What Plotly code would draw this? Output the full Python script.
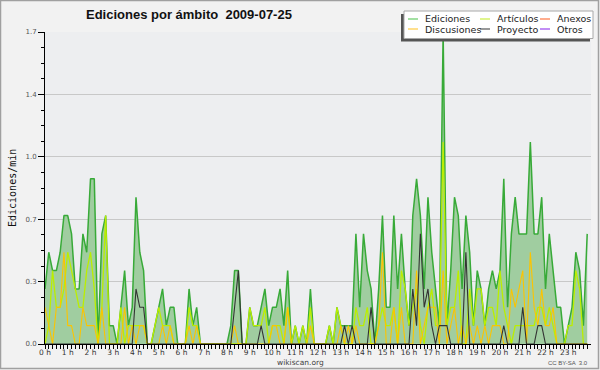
import plotly.graph_objects as go

# 10-minute bins, values in edits per minute (24 h x 6 bins)
ediciones = [
    0.3, 0.5, 0.4, 0.4, 0.5, 0.7,
    0.7, 0.6, 0.3, 0.3, 0.6, 0.5,
    0.9, 0.9, 0.0, 0.6, 0.7, 0.1,
    0.1, 0.0, 0.2, 0.4, 0.1, 0.2,
    0.8, 0.5, 0.4, 0.0, 0.0, 0.1,
    0.2, 0.3, 0.1, 0.2, 0.2, 0.0,
    0.0, 0.0, 0.3, 0.1, 0.2, 0.0,
    0.0, 0.0, 0.0, 0.0, 0.0, 0.0,
    0.0, 0.1, 0.4, 0.4, 0.0, 0.0,
    0.2, 0.1, 0.1, 0.2, 0.3, 0.1,
    0.2, 0.2, 0.3, 0.1, 0.4, 0.0,
    0.1, 0.0, 0.1, 0.0, 0.3, 0.0,
    0.0, 0.0, 0.0, 0.1, 0.0, 0.2,
    0.1, 0.1, 0.1, 0.1, 0.6, 0.2,
    0.6, 0.4, 0.3, 0.0, 0.3, 0.7,
    0.2, 0.2, 0.7, 0.3, 0.6, 0.3,
    0.1, 0.7, 0.9, 0.7, 0.3, 0.8,
    0.5, 0.3, 0.1, 1.7, 0.1, 0.4,
    0.8, 0.7, 0.3, 0.7, 0.5, 0.1,
    0.4, 0.3, 0.1, 0.3, 0.4, 0.3,
    0.4, 0.9, 0.2, 0.6, 0.8, 0.6,
    0.6, 0.6, 1.1, 0.6, 0.6, 0.8,
    0.3, 0.6, 0.4, 0.2, 0.2, 0.0,
    0.1, 0.2, 0.5, 0.4, 0.1, 0.6,
]

articulos = [
    0.0, 0.1, 0.4, 0.2, 0.2, 0.3,
    0.5, 0.4, 0.3, 0.2, 0.2, 0.4,
    0.5, 0.3, 0.0, 0.2, 0.7, 0.0,
    0.0, 0.0, 0.2, 0.0, 0.1, 0.1,
    0.1, 0.1, 0.1, 0.0, 0.0, 0.1,
    0.2, 0.1, 0.1, 0.1, 0.0, 0.0,
    0.0, 0.0, 0.2, 0.1, 0.1, 0.0,
    0.0, 0.0, 0.0, 0.0, 0.0, 0.0,
    0.0, 0.0, 0.0, 0.0, 0.0, 0.0,
    0.2, 0.1, 0.1, 0.1, 0.2, 0.0,
    0.1, 0.1, 0.1, 0.0, 0.2, 0.0,
    0.1, 0.0, 0.1, 0.0, 0.2, 0.0,
    0.0, 0.0, 0.0, 0.1, 0.0, 0.2,
    0.1, 0.0, 0.0, 0.0, 0.2, 0.1,
    0.1, 0.2, 0.0, 0.0, 0.1, 0.2,
    0.1, 0.1, 0.2, 0.0, 0.4, 0.3,
    0.1, 0.2, 0.3, 0.1, 0.0, 0.2,
    0.3, 0.1, 0.1, 1.1, 0.1, 0.2,
    0.2, 0.4, 0.0, 0.0, 0.3, 0.1,
    0.3, 0.3, 0.1, 0.2, 0.2, 0.1,
    0.4, 0.2, 0.1, 0.0, 0.1, 0.1,
    0.1, 0.1, 0.1, 0.1, 0.2, 0.2,
    0.1, 0.2, 0.1, 0.0, 0.0, 0.0,
    0.1, 0.1, 0.4, 0.3, 0.0, 0.0,
]

discusiones = [
    0.2, 0.1, 0.0, 0.2, 0.2, 0.5,
    0.1, 0.1, 0.0, 0.0, 0.2, 0.1,
    0.1, 0.1, 0.0, 0.2, 0.0, 0.0,
    0.0, 0.0, 0.0, 0.2, 0.0, 0.1,
    0.0, 0.1, 0.1, 0.0, 0.0, 0.0,
    0.0, 0.1, 0.0, 0.1, 0.0, 0.0,
    0.0, 0.0, 0.1, 0.0, 0.1, 0.0,
    0.0, 0.0, 0.0, 0.0, 0.0, 0.0,
    0.0, 0.0, 0.1, 0.0, 0.0, 0.0,
    0.0, 0.0, 0.0, 0.0, 0.0, 0.0,
    0.1, 0.1, 0.0, 0.0, 0.2, 0.0,
    0.0, 0.0, 0.0, 0.0, 0.1, 0.0,
    0.0, 0.0, 0.0, 0.0, 0.0, 0.0,
    0.1, 0.0, 0.1, 0.0, 0.1, 0.0,
    0.0, 0.0, 0.0, 0.0, 0.1, 0.5,
    0.0, 0.0, 0.2, 0.0, 0.2, 0.0,
    0.0, 0.0, 0.4, 0.0, 0.1, 0.2,
    0.2, 0.2, 0.0, 0.4, 0.0, 0.1,
    0.2, 0.0, 0.1, 0.0, 0.1, 0.0,
    0.1, 0.0, 0.1, 0.0, 0.1, 0.1,
    0.1, 0.0, 0.0, 0.3, 0.2, 0.3,
    0.4, 0.0, 0.5, 0.2, 0.1, 0.3,
    0.1, 0.1, 0.2, 0.0, 0.0, 0.0,
    0.0, 0.0, 0.0, 0.0, 0.0, 0.0,
]

proyecto = [
    0.0, 0.0, 0.0, 0.0, 0.0, 0.0,
    0.0, 0.0, 0.0, 0.0, 0.0, 0.0,
    0.0, 0.0, 0.0, 0.0, 0.0, 0.0,
    0.0, 0.0, 0.0, 0.0, 0.0, 0.0,
    0.3, 0.2, 0.2, 0.0, 0.0, 0.0,
    0.0, 0.0, 0.0, 0.0, 0.0, 0.0,
    0.0, 0.0, 0.0, 0.0, 0.0, 0.0,
    0.0, 0.0, 0.0, 0.0, 0.0, 0.0,
    0.0, 0.0, 0.2, 0.4, 0.0, 0.0,
    0.0, 0.0, 0.0, 0.1, 0.0, 0.0,
    0.0, 0.0, 0.0, 0.0, 0.0, 0.0,
    0.0, 0.0, 0.0, 0.0, 0.0, 0.0,
    0.0, 0.0, 0.0, 0.0, 0.0, 0.0,
    0.0, 0.1, 0.0, 0.1, 0.0, 0.0,
    0.0, 0.0, 0.2, 0.0, 0.0, 0.0,
    0.0, 0.0, 0.0, 0.0, 0.0, 0.0,
    0.0, 0.3, 0.1, 0.6, 0.2, 0.3,
    0.1, 0.0, 0.1, 0.1, 0.1, 0.0,
    0.0, 0.0, 0.0, 0.5, 0.0, 0.0,
    0.0, 0.0, 0.0, 0.0, 0.0, 0.0,
    0.0, 0.1, 0.0, 0.0, 0.0, 0.0,
    0.2, 0.0, 0.0, 0.0, 0.1, 0.1,
    0.0, 0.0, 0.0, 0.0, 0.0, 0.0,
    0.0, 0.0, 0.0, 0.0, 0.0, 0.0,
]

anexos = [0.0] * 144
otros = [0.0] * 144

hour_ticks = list(range(24))
hour_labels = [f"{h} h" for h in hour_ticks]
y_ticks = [0.0, 0.34, 0.68, 1.02, 1.36, 1.7]
y_labels = ["0.0", "0.3", "0.7", "1.0", "1.4", "1.7"]

times = [i / 6 for i in range(144)]

# plot-area geometry (pixels)
W, H = 600, 370
L, R, T, B = 45, 591, 32, 344


def px(x):
    return (x - L) / (R - L)


def py(y):
    return (B - y) / (B - T)


fig = go.Figure()

fig.add_trace(go.Scatter(x=times, y=anexos, mode="lines", line=dict(color="#ff6633", width=1),
                         showlegend=False, hoverinfo="skip"))
fig.add_trace(go.Scatter(x=times, y=otros, mode="lines", line=dict(color="#9933ee", width=1),
                         showlegend=False, hoverinfo="skip"))
fig.add_trace(go.Scatter(x=times, y=ediciones, mode="lines", fill="tozeroy",
                         fillcolor="#a0cda0", line=dict(color="#38aa38", width=1.5),
                         showlegend=False))
fig.add_trace(go.Scatter(x=times, y=articulos, mode="lines",
                         line=dict(color="#bbee00", width=1.3), showlegend=False))
fig.add_trace(go.Scatter(x=times, y=discusiones, mode="lines",
                         line=dict(color="#fcc400", width=1.1), showlegend=False))
fig.add_trace(go.Scatter(x=times, y=proyecto, mode="lines",
                         line=dict(color="#333333", width=1.1), showlegend=False))
fig.update_traces(line_simplify=False)

shapes = []
annotations = []

# outer frame
shapes.append(dict(type="rect", xref="paper", yref="paper",
                   x0=px(0.5), x1=px(W - 1.5), y0=py(0.5), y1=py(H - 1.5),
                   line=dict(color="#a0a0a0", width=1.5), fillcolor="rgba(0,0,0,0)", layer="below"))

# legend shadow & box
shapes.append(dict(type="rect", xref="paper", yref="paper",
                   x0=px(401), x1=px(590), y0=py(14), y1=py(41.5),
                   line=dict(width=0), fillcolor="#555555", layer="above"))
shapes.append(dict(type="rect", xref="paper", yref="paper",
                   x0=px(404), x1=px(593), y0=py(11), y1=py(38.5),
                   line=dict(color="#a8a8a8", width=1), fillcolor="#ffffff", layer="above"))

legend_items = [
    ("Ediciones", "#66cc66", 408, 19),
    ("Discusiones", "#ffcc44", 408, 29),
    ("Artículos", "#ccee44", 480, 19),
    ("Proyecto", "#555555", 480, 29),
    ("Anexos", "#ff7744", 540, 19),
    ("Otros", "#9944ee", 540, 29),
]
for name, color, x0, yc in legend_items:
    shapes.append(dict(type="line", xref="paper", yref="paper",
                       x0=px(x0), x1=px(x0 + 10), y0=py(yc), y1=py(yc),
                       line=dict(color=color, width=1.2), layer="above"))
    annotations.append(dict(text=name, xref="paper", yref="paper", x=px(x0 + 15), y=py(yc),
                            xanchor="left", yanchor="middle", showarrow=False,
                            font=dict(family="DejaVu Sans", size=9.5, color="#222222")))

# title
annotations.append(dict(text="<b>Ediciones por ámbito \u00a02009-07-25</b>", xref="paper", yref="paper",
                        x=px(188.5), y=py(14.5), xanchor="center", yanchor="middle", showarrow=False,
                        font=dict(family="Liberation Sans", size=13, color="#111111")))
# y title
annotations.append(dict(text="Ediciones/min", xref="paper", yref="paper", x=px(12), y=py(188),
                        xanchor="center", yanchor="middle", textangle=-90, showarrow=False,
                        font=dict(family="DejaVu Sans Mono", size=10, color="#111111")))
# footer
annotations.append(dict(text="wikiscan.org", xref="paper", yref="paper", x=px(300), y=py(362),
                        xanchor="center", yanchor="middle", showarrow=False,
                        font=dict(family="DejaVu Sans", size=7.5, color="#444444")))
annotations.append(dict(text="CC BY-SA  3.0", xref="paper", yref="paper", x=px(590), y=py(363),
                        xanchor="right", yanchor="middle", showarrow=False,
                        font=dict(family="Liberation Sans", size=6, color="#555555")))

fig.update_layout(
    width=W, height=H, autosize=False,
    margin=dict(l=L, r=W - R, t=T, b=H - B, pad=0),
    paper_bgcolor="#f2f2f2", plot_bgcolor="#edeef0",
    showlegend=False, hovermode=False,
    shapes=shapes, annotations=annotations,
    xaxis=dict(range=[0, 24], tickmode="array", tickvals=hour_ticks, ticktext=hour_labels,
               ticks="outside", ticklen=4, tickcolor="#000000", tickwidth=1,
               ticklabelstandoff=-3,
               showline=True, linecolor="#000000", linewidth=1, showgrid=False, zeroline=False,
               tickfont=dict(family="DejaVu Sans", size=7.5, color="#333333"),
               minor=dict(tickmode="array", tickvals=times, ticks="outside", ticklen=4,
                          tickcolor="#000000", tickwidth=1, showgrid=False)),
    yaxis=dict(range=[0, 1.7], tickmode="array", tickvals=y_ticks, ticktext=y_labels,
               ticks="outside", ticklen=6, tickcolor="#000000", tickwidth=1,
               showline=True, linecolor="#000000", linewidth=1,
               showgrid=True, gridcolor="#c8c8c8", gridwidth=1, zeroline=False,
               tickfont=dict(family="DejaVu Sans", size=7, color="#555555"),
               minor=dict(tickmode="array", tickvals=[0.085 * k for k in range(21)],
                          ticks="outside", ticklen=3, tickcolor="#000000", tickwidth=1,
                          showgrid=False)),
)

post = (
    "document.body.style.margin='0';document.body.style.overflow='hidden';"
    "var st=document.createElement('style');"
    "st.textContent='.js-line{stroke-linejoin:bevel !important;}';"
    "document.head.appendChild(st);"
)
fig.write_html("out.html", config={"displayModeBar": False}, post_script=post)
